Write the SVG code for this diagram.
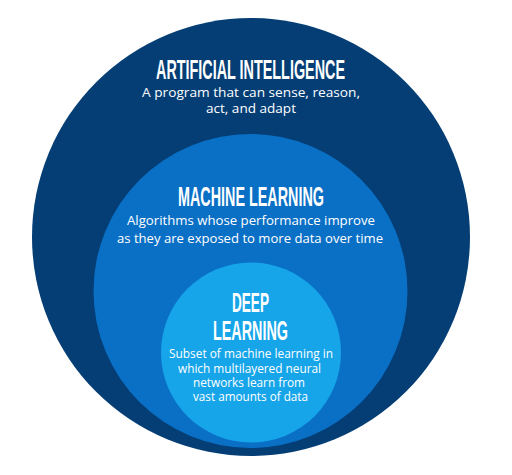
<svg xmlns="http://www.w3.org/2000/svg" width="512" height="475" viewBox="0 0 512 475">
  <style>
    .title { font-family: "Liberation Sans Narrow", "Liberation Sans", Arial, sans-serif; font-weight: bold; font-size: 28.5px; fill: #ffffff; text-anchor: middle; }
    .body { font-family: "Open Sans", "Noto Sans", "Liberation Sans", sans-serif; font-size: 13.5px; fill: #ffffff; text-anchor: middle; }
    .body-sm { font-family: "Open Sans", "Noto Sans", "Liberation Sans", sans-serif; font-size: 12px; fill: #ffffff; text-anchor: middle; }
  </style>
  <rect width="512" height="475" fill="#ffffff"/>
  <g id="ai">
    <circle cx="251" cy="237" r="219" fill="#043e75"/>
    <text class="title" x="250.5" y="79" textLength="189" lengthAdjust="spacingAndGlyphs">ARTIFICIAL INTELLIGENCE</text>
    <text class="body" x="251" y="97" textLength="218" lengthAdjust="spacingAndGlyphs">A program that can sense, reason,</text>
    <text class="body" x="251" y="113" textLength="90" lengthAdjust="spacingAndGlyphs">act, and adapt</text>
  </g>
  <g id="ml">
    <circle cx="250.5" cy="291" r="157" fill="#0a70c6"/>
    <text class="title" x="251" y="206" textLength="146" lengthAdjust="spacingAndGlyphs">MACHINE LEARNING</text>
    <text class="body" x="251" y="225" textLength="248" lengthAdjust="spacingAndGlyphs">Algorithms whose performance improve</text>
    <text class="body" x="250" y="243" textLength="266" lengthAdjust="spacingAndGlyphs">as they are exposed to more data over time</text>
  </g>
  <g id="dl">
    <circle cx="251" cy="352.5" r="90" fill="#17a5e9"/>
    <text class="title" x="250.5" y="312" textLength="37" lengthAdjust="spacingAndGlyphs">DEEP</text>
    <text class="title" x="250.5" y="340" textLength="75" lengthAdjust="spacingAndGlyphs">LEARNING</text>
    <text class="body-sm" x="251" y="358" textLength="164" lengthAdjust="spacingAndGlyphs">Subset of machine learning in</text>
    <text class="body-sm" x="249.5" y="373" textLength="143" lengthAdjust="spacingAndGlyphs">which multilayered neural</text>
    <text class="body-sm" x="249" y="387" textLength="112" lengthAdjust="spacingAndGlyphs">networks learn from</text>
    <text class="body-sm" x="250.5" y="401" textLength="115" lengthAdjust="spacingAndGlyphs">vast amounts of data</text>
  </g>
  <g id="connectors"/>
</svg>
